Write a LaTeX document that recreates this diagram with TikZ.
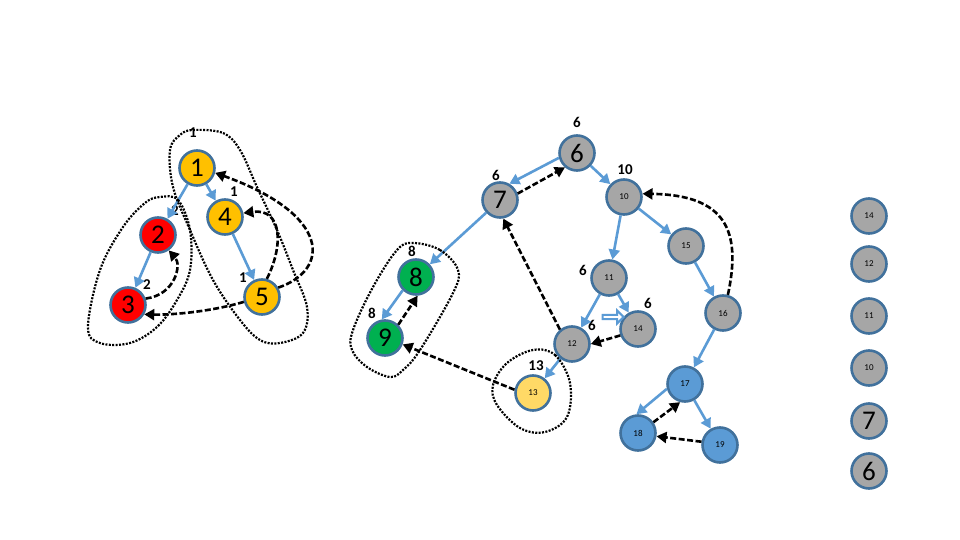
\documentclass[tikz,border=0pt]{standalone}
\usepackage{fontspec}
\setmainfont{Carlito}
\usetikzlibrary{arrows.meta,shapes.arrows}
\definecolor{bord}{HTML}{41719C}
\definecolor{eblue}{HTML}{5B9BD5}
\definecolor{cgold}{HTML}{FFC000}
\definecolor{cred}{HTML}{FF0000}
\definecolor{cgreen}{HTML}{00B050}
\definecolor{cgray}{HTML}{A6A6A6}
\definecolor{cyel}{HTML}{FFD966}
\definecolor{cblue}{HTML}{5B9BD5}
\begin{document}
\begin{tikzpicture}[x=1pt,y=-1pt,
 vtx/.style={circle,draw=bord,line width=2.6pt,minimum size=35pt,inner sep=0pt},
 big/.style={font=\fontsize{27}{27}\selectfont},
 small/.style={font=\fontsize{9}{9}\selectfont},
 tree/.style={draw=eblue,line width=2.6pt,-{Triangle[length=10pt,width=11pt]}},
 back/.style={draw=black,line width=2.6pt,dash pattern=on 6pt off 2.5pt,-{Triangle[length=10pt,width=11pt]}},
 scc/.style={draw=black,line width=2.2pt,dash pattern=on 2pt off 1.4pt},
 lab/.style={font=\bfseries\fontsize{15}{15}\selectfont,inner sep=0pt}]
\useasboundingbox (0,0) rectangle (960,540);
% left component
\node[vtx,big,fill=cgold] (n1) at (197,168) {1};
\node[vtx,big,fill=cred] (n2) at (158,235) {2};
\node[vtx,big,fill=cred] (n3) at (128,305) {3};
\node[vtx,big,fill=cgold] (n4) at (225,217) {4};
\node[vtx,big,fill=cgold] (n5) at (262,297) {5};
% middle
\node[vtx,big,fill=cgray] (n6) at (577,153) {6};
\node[vtx,big,fill=cgray] (n7) at (500,200) {7};
\node[vtx,big,fill=cgreen] (n8) at (416,277) {8};
\node[vtx,big,fill=cgreen] (n9) at (385,338) {9};
\node[vtx,small,fill=cgray] (n10) at (624,197) {10};
\node[vtx,small,fill=cgray] (n11) at (609,278) {11};
\node[vtx,small,fill=cgray] (n12) at (572,344) {12};
\node[vtx,small,fill=cyel] (n13) at (533,393) {13};
\node[vtx,small,fill=cgray] (n14) at (638,329) {14};
\node[vtx,small,fill=cgray] (n15) at (686,246) {15};
\node[vtx,small,fill=cgray] (n16) at (723,313) {16};
\node[vtx,small,fill=cblue] (n17) at (685,384) {17};
\node[vtx,small,fill=cblue] (n18) at (638,433) {18};
\node[vtx,small,fill=cblue] (n19) at (720,445) {19};
% stack
\node[vtx,small,fill=cgray] (s14) at (869,216) {14};
\node[vtx,small,fill=cgray] (s12) at (869,264) {12};
\node[vtx,small,fill=cgray] (s11) at (869,316) {11};
\node[vtx,small,fill=cgray] (s10) at (869,368) {10};
\node[vtx,big,fill=cgray] (s7) at (869,421) {7};
\node[vtx,big,fill=cgray] (s6) at (869,471) {6};
% labels
\node[lab] (l1) at (193,133) {1};
\node[lab] (l2) at (175,211) {2};
\node[lab] (l3) at (147,285) {2};
\node[lab] (l4) at (234,192) {1};
\node[lab] (l5) at (243,278) {1};
\node[lab] (l6) at (577,122) {6};
\node[lab] (l7) at (496,175) {6};
\node[lab] (l10) at (625,170) {10};
\node[lab] (l11) at (583,270) {6};
\node[lab] (l12) at (592,325) {6};
\node[lab] (l14) at (648,303) {6};
\node[lab] (l13) at (536,366) {13};
\node[lab] (l8) at (412,251) {8};
\node[lab] (l9) at (372,313) {8};
\node[single arrow,draw=eblue,line width=2pt,minimum height=21pt,minimum width=13pt,single arrow head extend=3pt,inner sep=0.5pt] (harr) at (612,317) {};
% tree edges
\draw[tree] (n1) -- (n2);
\draw[tree] (n1) -- (n4);
\draw[tree] (n2) -- (n3);
\draw[tree] (n4) -- (n5);
\draw[tree] (n6.195) -- (n7.60);
\draw[tree] (n6) -- (n10);
\draw[tree] (n7) -- (n8);
\draw[tree] (n8.225) -- (n9.100);
\draw[tree] (n10) -- (n11);
\draw[tree] (n10) -- (n15);
\draw[tree] (n11) -- (n12);
\draw[tree] (n11) -- (n14);
\draw[tree] (n12) -- (n13);
\draw[tree] (n15) -- (n16);
\draw[tree] (n16) -- (n17);
\draw[tree] (n17.195) -- (n18.95);
\draw[tree] (n17) -- (n19);
% back edges
\draw[back] (n3.20) .. controls (175,295) and (182,265) .. (n2.-55);
\draw[back] (n5.75) .. controls (284,245) and (282,208) .. (n4.12);
\draw[back] (n5.30) .. controls (330,270) and (332,215) .. (n1.-15);
\draw[back] (n5.195) .. controls (210,312) and (170,315) .. (n3.-30);
\draw[back] (n7.20) -- (n6.230);
\draw[back] (n9.45) -- (n8.275);
\draw[back] (n13.170) -- (n9.-20);
\draw[back] (n12.130) -- (n7.-80);
\draw[back] (n14.200) -- (n12.0);
\draw[back] (n16.75) .. controls (742,230) and (725,195) .. (n10.10);
\draw[back] (n18.35) -- (n17.255);
\draw[back] (n19.170) -- (n18.-10);
% SCC outlines
\draw[scc] plot[smooth cycle,tension=0.6] coordinates {(160,197) (178,200) (190,230) (190,270) (177,300) (157,327) (130,343) (100,343) (88,327) (100,270) (123,227) (145,203)};
\draw[scc] plot[smooth cycle,tension=0.6] coordinates {(193,130) (223,133) (240,150) (257,187) (277,230) (293,270) (307,307) (303,333) (280,343) (260,340) (240,320) (213,280) (190,230) (173,187) (170,150) (180,135)};
\draw[scc] plot[smooth cycle,tension=0.6] coordinates {(413,243) (440,250) (458,270) (453,293) (420,350) (403,370) (390,377) (367,367) (352,350) (353,330) (373,287) (397,250)};
\draw[scc] plot[smooth cycle,tension=0.6] coordinates {(533,350) (555,355) (570,383) (567,417) (545,432) (520,428) (497,405) (493,385) (507,363)};
\end{tikzpicture}
\end{document}
